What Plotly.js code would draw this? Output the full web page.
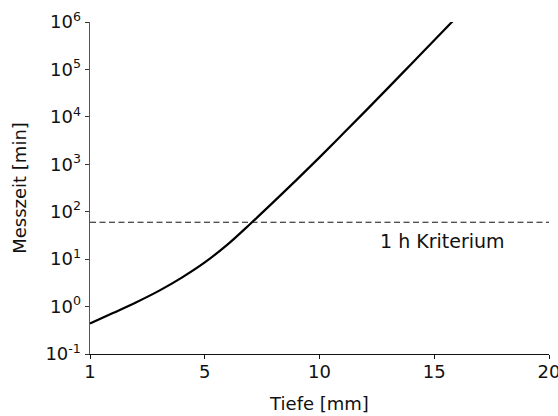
<!DOCTYPE html>
<html>
<head>
<meta charset="utf-8">
<script src="https://cdn.plot.ly/plotly-3.0.1.min.js"></script>
<style>html,body{margin:0;padding:0;background:#fff;}#chart{width:558px;height:416px;}</style>
</head>
<body>
<div id="chart"></div>
<script>
const depth = [0, 1, 2, 3, 4, 5, 6, 7, 8, 9, 10, 11, 12, 13, 14, 15, 15.82];
const messzeit = [0.44, 0.73, 1.22, 2.14, 4.08, 8.53, 20.5, 56.4, 161, 469, 1400, 4280, 13200, 41300, 130600, 413000, 1060000];
const criterionMinutes = 60;
const xTickVals = [0, 5, 10, 15, 20];
const xTickText = ["1", "5", "10", "15", "20"];
const yTickVals = [0.1, 1, 10, 100, 1000, 10000, 100000, 1000000];
const yTickText = ["10<sup>-1</sup>", "10<sup>0</sup>", "10<sup>1</sup>", "10<sup>2</sup>", "10<sup>3</sup>", "10<sup>4</sup>", "10<sup>5</sup>", "10<sup>6</sup>"];

const font = {family: "DejaVu Sans, sans-serif", size: 18, color: "#111"};

const traces = [
  {x: depth, y: messzeit, mode: "lines", line: {color: "#000", width: 2.2, shape: "spline", smoothing: 1}, hoverinfo: "skip"},
  {x: [0, 20], y: [criterionMinutes, criterionMinutes], mode: "lines", line: {color: "#111", width: 1, dash: "6px,3.5px"}, hoverinfo: "skip"}
];

const layout = {
  width: 558, height: 416,
  margin: {l: 90, r: 9, t: 22, b: 62, pad: 0},
  paper_bgcolor: "#fff", plot_bgcolor: "#fff",
  showlegend: false,
  font: font,
  xaxis: {
    range: [0, 20], tickvals: xTickVals, ticktext: xTickText,
    showgrid: false, zeroline: false, showline: true, linecolor: "#111", linewidth: 1.3,
    ticks: "outside", ticklen: 4, tickcolor: "#111", tickfont: font,
    ticklabeloverflow: "allow", ticklabelstandoff: -3,
    title: {text: "Tiefe [mm]", font: font, standoff: 16}
  },
  yaxis: {
    type: "log", range: [-1, 6], tickvals: yTickVals, ticktext: yTickText,
    showgrid: false, zeroline: false, showline: true, linecolor: "#555", linewidth: 1.5,
    ticks: "outside", ticklen: 4, tickcolor: "#333", tickfont: font,
    title: {text: "Messzeit [min]", font: font, standoff: 14}
  },
  annotations: [
    {x: 15.37, y: 1.389, xref: "x", yref: "y", text: "1 h Kriterium", showarrow: false, font: {family: font.family, size: 19, color: "#111"}}
  ]
};

Plotly.newPlot("chart", traces, layout, {staticPlot: true, displayModeBar: false});
</script>
</body>
</html>
